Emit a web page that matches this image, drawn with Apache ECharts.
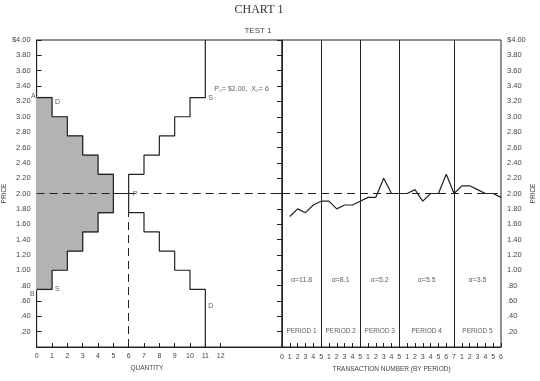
<!DOCTYPE html>
<html><head><meta charset="utf-8">
<script src="https://cdn.jsdelivr.net/npm/echarts@6/dist/echarts.min.js"></script>
<style>html,body{margin:0;padding:0;background:#fff}#c{width:540px;height:381px}</style>
</head><body><div id="c"></div>
<script>
// ---- data ----
const quantityTicks = [0,1,2,3,4,5,6,7,8,9,10,11,12];
const demandPrices = [3.25,3.00,2.75,2.50,2.25,2.00,1.75,1.50,1.25,1.00,0.75];
const supplyPrices = [0.75,1.00,1.25,1.50,1.75,2.00,2.25,2.50,2.75,3.00,3.25];
const eqPrice = 2.00;
const eqQuantity = 6;
const periodLengths = [5,5,5,7,6];
const periodNames = ['PERIOD 1','PERIOD 2','PERIOD 3','PERIOD 4','PERIOD 5'];
const alphaLabels = ['α=11.8','α=8.1','α=5.2','α=5.5','α=3.5'];
const transactionPrices = [1.70,1.80,1.75,1.85,1.90, 1.90,1.80,1.85,1.85,1.90, 1.95,1.95,2.20,2.00,2.00,
  2.00,2.05,1.90,2.00,2.00,2.25,2.00, 2.10,2.10,2.05,2.00,2.00,1.95];
const priceMin = 0, priceMax = 4, priceStep = 0.2;

// ---- derived ----
const nUnits = demandPrices.length;
const demandLine = demandPrices.map((p,i)=>[i,p]).concat([[nUnits,0]]);
const supplyLine = supplyPrices.map((p,i)=>[i,p]).concat([[nUnits,priceMax]]);
const surplus = [];
demandPrices.forEach((d,i)=>{ if (d > supplyPrices[i]) surplus.push([i, supplyPrices[i], d]); });
const transLabels = ['0'];
periodLengths.forEach(n=>{ for(let k=1;k<=n;k++) transLabels.push(String(k)); });
const totalTrans = periodLengths.reduce((a,b)=>a+b,0);
const boundaries = []; const centers = [];
let acc = 0;
periodLengths.forEach((n,i)=>{ centers.push(acc + n/2); acc += n; if (i < periodLengths.length-1) boundaries.push(acc); });
const priceSeries = transactionPrices.map((p,i)=>[i+1,p]);

const FONT = 'Liberation Sans';
const TXT = '#444';
const LINE = '#222';
const SHADE = '#b3b3b3';
function priceFmt(v){
  if (v < 0.001) return '';
  if (Math.abs(v-4) < 0.001) return '$4.00';
  const s = v.toFixed(2);
  return v < 1 ? s.slice(1) : s;
}
const yCommon = {
  type:'value', min:priceMin, max:priceMax, interval:priceStep,
  axisLine:{show:true, lineStyle:{color:LINE, width:1}},
  axisTick:{show:true, inside:true, length:5, lineStyle:{color:LINE}},
  splitLine:{show:false},
  name:'PRICE', nameLocation:'middle', nameRotate:90,
  nameTextStyle:{fontFamily:FONT, fontSize:6.5, color:TXT}
};

const chart = echarts.init(document.getElementById('c'), null, {renderer:'canvas'});
const option = {
  animation:false,
  backgroundColor:'#fff',
  title:[
    {text:'CHART 1', left:259, top:4, padding:0, textAlign:'center',
     textStyle:{fontFamily:'Liberation Serif', fontSize:12, fontWeight:'normal', color:'#333'}},
    {text:'TEST 1', left:258, top:27, padding:0, textAlign:'center',
     textStyle:{fontFamily:FONT, fontSize:8, fontWeight:'normal', color:TXT}}
  ],
  grid:[
    {left:33, top:40, width:249, bottom:34, show:true, borderColor:LINE, borderWidth:1, containLabel:false},
    {left:282, top:40, right:39, bottom:34, show:true, borderColor:LINE, borderWidth:1, containLabel:false}
  ],
  xAxis:[
    {gridIndex:0, type:'value', min:0, max:16, interval:1,
     axisLine:{show:true, lineStyle:{color:LINE}},
     axisTick:{show:true, inside:true, length:4, customValues:quantityTicks, lineStyle:{color:LINE}},
     axisLabel:{customValues:quantityTicks, fontFamily:FONT, fontSize:7, color:TXT, margin:6},
     splitLine:{show:false},
     name:'QUANTITY', nameLocation:'middle', nameGap:18,
     nameTextStyle:{fontFamily:FONT, fontSize:6.5, color:TXT, padding:[0,25,0,0]}},
    {gridIndex:1, type:'value', min:0, max:totalTrans, interval:1,
     axisLine:{show:true, lineStyle:{color:LINE}},
     axisTick:{show:true, inside:true, length:4, lineStyle:{color:LINE}},
     axisLabel:{fontFamily:FONT, fontSize:7, color:TXT, margin:7, showMinLabel:true, showMaxLabel:true,
       formatter:v=>transLabels[Math.round(v)] ?? ''},
     splitLine:{show:false},
     name:'TRANSACTION NUMBER (BY PERIOD)', nameLocation:'middle', nameGap:18,
     nameTextStyle:{fontFamily:FONT, fontSize:6.5, color:TXT}}
  ],
  yAxis:[
    Object.assign({}, yCommon, {gridIndex:0, position:'left', nameGap:24,
      axisLabel:{formatter:priceFmt, fontFamily:FONT, fontSize:7.5, color:TXT, margin:6}}),
    Object.assign({}, yCommon, {gridIndex:1, position:'right', nameGap:26,
      axisLabel:{formatter:priceFmt, fontFamily:FONT, fontSize:7.5, color:TXT, margin:6}})
  ],
  series:[
    {type:'custom', xAxisIndex:0, yAxisIndex:0, z:1, silent:true,
     encode:{x:0, y:[1,2]}, data:surplus,
     renderItem:(params, api)=>{
       const q = api.value(0), lo = api.value(1), hi = api.value(2);
       const p1 = api.coord([q, lo]), p2 = api.coord([q+1, hi]);
       return {type:'rect', shape:{x:p1[0], y:p2[1], width:p2[0]-p1[0], height:p1[1]-p2[1]},
               style:{fill:SHADE, stroke:SHADE, lineWidth:1.5}};
     }},
    {type:'line', name:'Demand', xAxisIndex:0, yAxisIndex:0, z:3, step:'end', symbol:'none',
     data:demandLine, lineStyle:{color:LINE, width:1.2}, silent:true,
     markLine:{symbol:'none', silent:true, label:{show:false},
       lineStyle:{color:LINE, width:1, type:[8,5]},
       data:[
         {yAxis:eqPrice},
         [{coord:[eqQuantity,0]},{coord:[eqQuantity, demandPrices[eqQuantity]]}]
       ]}},
    {type:'line', name:'Supply', xAxisIndex:0, yAxisIndex:0, z:3, step:'end', symbol:'none',
     data:supplyLine, lineStyle:{color:LINE, width:1.2}, silent:true},
    {type:'scatter', xAxisIndex:0, yAxisIndex:0, z:5, symbolSize:0, silent:true,
     label:{show:true, fontFamily:FONT, fontSize:7, color:'#333', distance:0},
     data:[
       {value:[0, demandPrices[0]], label:{formatter:'A', position:'left', offset:[-1,-2]}},
       {value:[0, supplyPrices[0]], label:{formatter:'B', position:'left', offset:[-2,5]}},
       {value:[1, demandPrices[0]], label:{formatter:'D', position:'right', offset:[3,4]}},
       {value:[1, supplyPrices[0]], label:{formatter:'S', position:'right', offset:[3,0]}},
       {value:[eqQuantity, eqPrice], label:{formatter:'P', position:'right', offset:[4,1]}},
       {value:[nUnits, supplyPrices[nUnits-1]], label:{formatter:'S', position:'right', offset:[3,0]}},
       {value:[nUnits, supplyPrices[nUnits-1]], label:{formatter:'P₀= $2.00,  X₀= 6', position:'right', offset:[9,-9]}},
       {value:[nUnits, demandPrices[nUnits-1]], label:{formatter:'D', position:'right', offset:[3,17]}}
     ]},
    {type:'line', name:'Price', xAxisIndex:1, yAxisIndex:1, z:3, symbol:'none', silent:true,
     data:priceSeries, lineStyle:{color:LINE, width:1.2},
     markLine:{symbol:'none', silent:true, label:{show:false},
       data:[
         {yAxis:eqPrice, lineStyle:{color:LINE, width:1, type:[8,5]}}
       ].concat(boundaries.map(b=>({xAxis:b, lineStyle:{color:LINE, width:1, type:'solid'}})))}},
    {type:'scatter', xAxisIndex:1, yAxisIndex:1, z:5, symbolSize:0, silent:true,
     label:{show:true, position:'inside', fontFamily:FONT, fontSize:7, color:'#333',
       formatter:p=>alphaLabels[p.dataIndex]},
     data:centers.map(c=>[c, 0.87])},
    {type:'scatter', xAxisIndex:1, yAxisIndex:1, z:5, symbolSize:0, silent:true,
     label:{show:true, position:'inside', fontFamily:FONT, fontSize:6.5, color:'#333',
       formatter:p=>periodNames[p.dataIndex]},
     data:centers.map(c=>[c, 0.2])}
  ]
};
chart.setOption(option);
</script></body></html>
